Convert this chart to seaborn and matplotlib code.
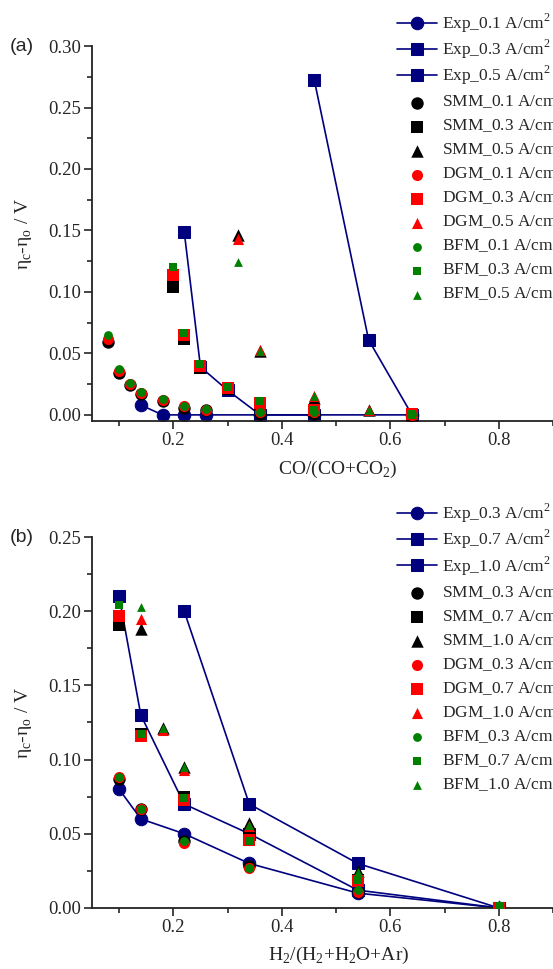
import numpy as np
import pandas as pd
import matplotlib.pyplot as plt
import seaborn as sns
from matplotlib.ticker import MultipleLocator

# %% data, panel (a): CO/(CO+CO2)
co_exp01_x = [0.14, 0.18, 0.22, 0.26, 0.36, 0.46, 0.64]
co_exp01_y = [0.008, 0.0, 0.0, 0.0, 0.0, 0.0, 0.0]
co_exp03_x = [0.22, 0.25, 0.30, 0.36, 0.46]
co_exp03_y = [0.149, 0.039, 0.020, 0.0, 0.0]
co_exp05_x = [0.46, 0.56, 0.64]
co_exp05_y = [0.272, 0.061, 0.0]

co_x01 = [0.08, 0.10, 0.12, 0.14, 0.18, 0.22, 0.26, 0.36, 0.46, 0.64]
co_smm01 = [0.059, 0.034, 0.024, 0.017, 0.011, 0.006, 0.004, 0.001, 0.001, 0.0]
co_dgm01 = [0.062, 0.036, 0.025, 0.018, 0.012, 0.007, 0.004, 0.002, 0.002, 0.0]
co_bfm01 = [0.065, 0.037, 0.026, 0.019, 0.013, 0.007, 0.005, 0.002, 0.002, 0.001]

co_x03 = [0.20, 0.22, 0.25, 0.30, 0.36, 0.46, 0.64]
co_smm03 = [0.104, 0.062, 0.038, 0.021, 0.008, 0.003, 0.0]
co_dgm03 = [0.114, 0.065, 0.040, 0.022, 0.010, 0.004, 0.001]
co_bfm03 = [0.120, 0.067, 0.041, 0.023, 0.011, 0.004, 0.001]

co_x05 = [0.32, 0.36, 0.46, 0.56, 0.64]
co_smm05 = [0.146, 0.052, 0.014, 0.004, 0.001]
co_dgm05 = [0.143, 0.053, 0.015, 0.004, 0.001]
co_bfm05 = [0.124, 0.052, 0.015, 0.004, 0.001]

# %% data, panel (b): H2/(H2+H2O+Ar)
h_x = [0.10, 0.14, 0.22, 0.34, 0.54, 0.80]
h_exp03 = [0.080, 0.060, 0.050, 0.030, 0.010, 0.0]
h_exp07 = [0.210, 0.130, 0.070, 0.050, 0.012, 0.0]
h_exp10_x = [0.22, 0.34, 0.54, 0.80]
h_exp10 = [0.200, 0.070, 0.030, 0.0]

h_smm03 = [0.087, 0.067, 0.045, 0.028, 0.011, 0.0]
h_dgm03 = [0.088, 0.067, 0.044, 0.027, 0.011, 0.0]
h_bfm03 = [0.088, 0.067, 0.045, 0.027, 0.012, 0.001]

h_smm07 = [0.191, 0.117, 0.075, 0.050, 0.019, 0.0]
h_dgm07 = [0.197, 0.116, 0.073, 0.046, 0.018, 0.0]
h_bfm07 = [0.204, 0.117, 0.074, 0.045, 0.019, 0.001]

h_x10 = [0.14, 0.18, 0.22, 0.34, 0.54, 0.80]
h_smm10 = [0.188, 0.121, 0.095, 0.057, 0.025, 0.001]
h_dgm10 = [0.195, 0.120, 0.093, 0.055, 0.022, 0.001]
h_bfm10 = [0.203, 0.121, 0.095, 0.056, 0.024, 0.002]

# %% style
sns.set_style('ticks')
plt.rcParams['font.family'] = ['Liberation Serif', 'DejaVu Serif']
plt.rcParams['mathtext.fontset'] = 'custom'
plt.rcParams['mathtext.rm'] = 'Liberation Serif'
plt.rcParams['xtick.direction'] = 'out'
plt.rcParams['ytick.direction'] = 'out'

navy = '#00007f'
model_style = {'SMM': ('black', 80), 'DGM': ('#ff0000', 64), 'BFM': ('#008000', 40)}
unit = ' A/cm$^\\mathregular{2}$'


def draw_panel(ax, exps, models, letter, xlabel, ylim, ymajor, legend_y):
    for lab, x, y, mk in exps:
        sns.lineplot(x=x, y=y, ax=ax, color=navy, marker=mk, markersize=9,
                     markeredgecolor=navy, linewidth=1.2, sort=False,
                     estimator=None, label='Exp_' + lab + unit)
    for name, lab, x, y, mk in models:
        col, s = model_style[name]
        sns.scatterplot(x=x, y=y, ax=ax, color=col, marker=mk, s=s, linewidth=0,
                        label=name + '_' + lab + unit, zorder=3)
    ax.set_xlim(0.05, 0.9)
    ax.set_ylim(*ylim)
    ax.xaxis.set_major_locator(MultipleLocator(0.2))
    ax.xaxis.set_minor_locator(MultipleLocator(0.1))
    ax.yaxis.set_major_locator(MultipleLocator(ymajor))
    ax.yaxis.set_minor_locator(MultipleLocator(ymajor / 2))
    ax.xaxis.set_major_formatter(plt.FuncFormatter(lambda v, p: f'{v:.1f}'))
    ax.yaxis.set_major_formatter(plt.FuncFormatter(lambda v, p: f'{v:.2f}'))
    ax.tick_params(which='major', length=6, width=1.2, labelsize=13.5, pad=2)
    ax.tick_params(which='minor', length=3.5, width=1.2)
    sns.despine(ax=ax)
    for sp in ['left', 'bottom']:
        ax.spines[sp].set_linewidth(1.3)
        ax.spines[sp].set_color('#222222')
    ax.set_xlabel(xlabel, fontsize=14)
    ax.xaxis.set_label_coords(0.534, -0.1)
    ax.set_ylabel('η$_\\mathregular{c}$-η$_\\mathregular{o}$ / V', fontsize=14)
    ax.yaxis.label.set_va('center')
    ax.yaxis.set_label_coords(-0.148, 0.5)
    ax.text(-0.178, 1.0, letter, transform=ax.transAxes, fontsize=14,
            family='Liberation Sans', ha='left', va='center')
    h, l = ax.get_legend_handles_labels()
    ax.legend(h, l, loc='upper left', bbox_to_anchor=(0.718, legend_y),
              bbox_transform=ax.figure.transFigure, frameon=False, fontsize=12.5,
              borderpad=0, borderaxespad=0, labelspacing=0.17, handlelength=2.3,
              handletextpad=0.3)


fig = plt.figure(figsize=(5.53, 9.69), dpi=100)
ax1 = fig.add_axes([0.1664, 0.5655, 0.8336, 0.387])
ax2 = fig.add_axes([0.1664, 0.0630, 0.8336, 0.3828])

draw_panel(ax1,
           [('0.1', co_exp01_x, co_exp01_y, 'o'),
            ('0.3', co_exp03_x, co_exp03_y, 's'),
            ('0.5', co_exp05_x, co_exp05_y, 's')],
           [('SMM', '0.1', co_x01, co_smm01, 'o'),
            ('SMM', '0.3', co_x03, co_smm03, 's'),
            ('SMM', '0.5', co_x05, co_smm05, '^'),
            ('DGM', '0.1', co_x01, co_dgm01, 'o'),
            ('DGM', '0.3', co_x03, co_dgm03, 's'),
            ('DGM', '0.5', co_x05, co_dgm05, '^'),
            ('BFM', '0.1', co_x01, co_bfm01, 'o'),
            ('BFM', '0.3', co_x03, co_bfm03, 's'),
            ('BFM', '0.5', co_x05, co_bfm05, '^')],
           '(a)', 'CO/(CO+CO$_\\mathregular{2}$)', (-0.005, 0.30), 0.05, 0.988)

draw_panel(ax2,
           [('0.3', h_x, h_exp03, 'o'),
            ('0.7', h_x, h_exp07, 's'),
            ('1.0', h_exp10_x, h_exp10, 's')],
           [('SMM', '0.3', h_x, h_smm03, 'o'),
            ('SMM', '0.7', h_x, h_smm07, 's'),
            ('SMM', '1.0', h_x10, h_smm10, '^'),
            ('DGM', '0.3', h_x, h_dgm03, 'o'),
            ('DGM', '0.7', h_x, h_dgm07, 's'),
            ('DGM', '1.0', h_x10, h_dgm10, '^'),
            ('BFM', '0.3', h_x, h_bfm03, 'o'),
            ('BFM', '0.7', h_x, h_bfm07, 's'),
            ('BFM', '1.0', h_x10, h_bfm10, '^')],
           '(b)', 'H$_\\mathregular{2}$/(H$_\\mathregular{2}$+H$_\\mathregular{2}$O+Ar)',
           (0.0, 0.25), 0.05, 0.482)

fig.savefig('out.png', dpi=100)
